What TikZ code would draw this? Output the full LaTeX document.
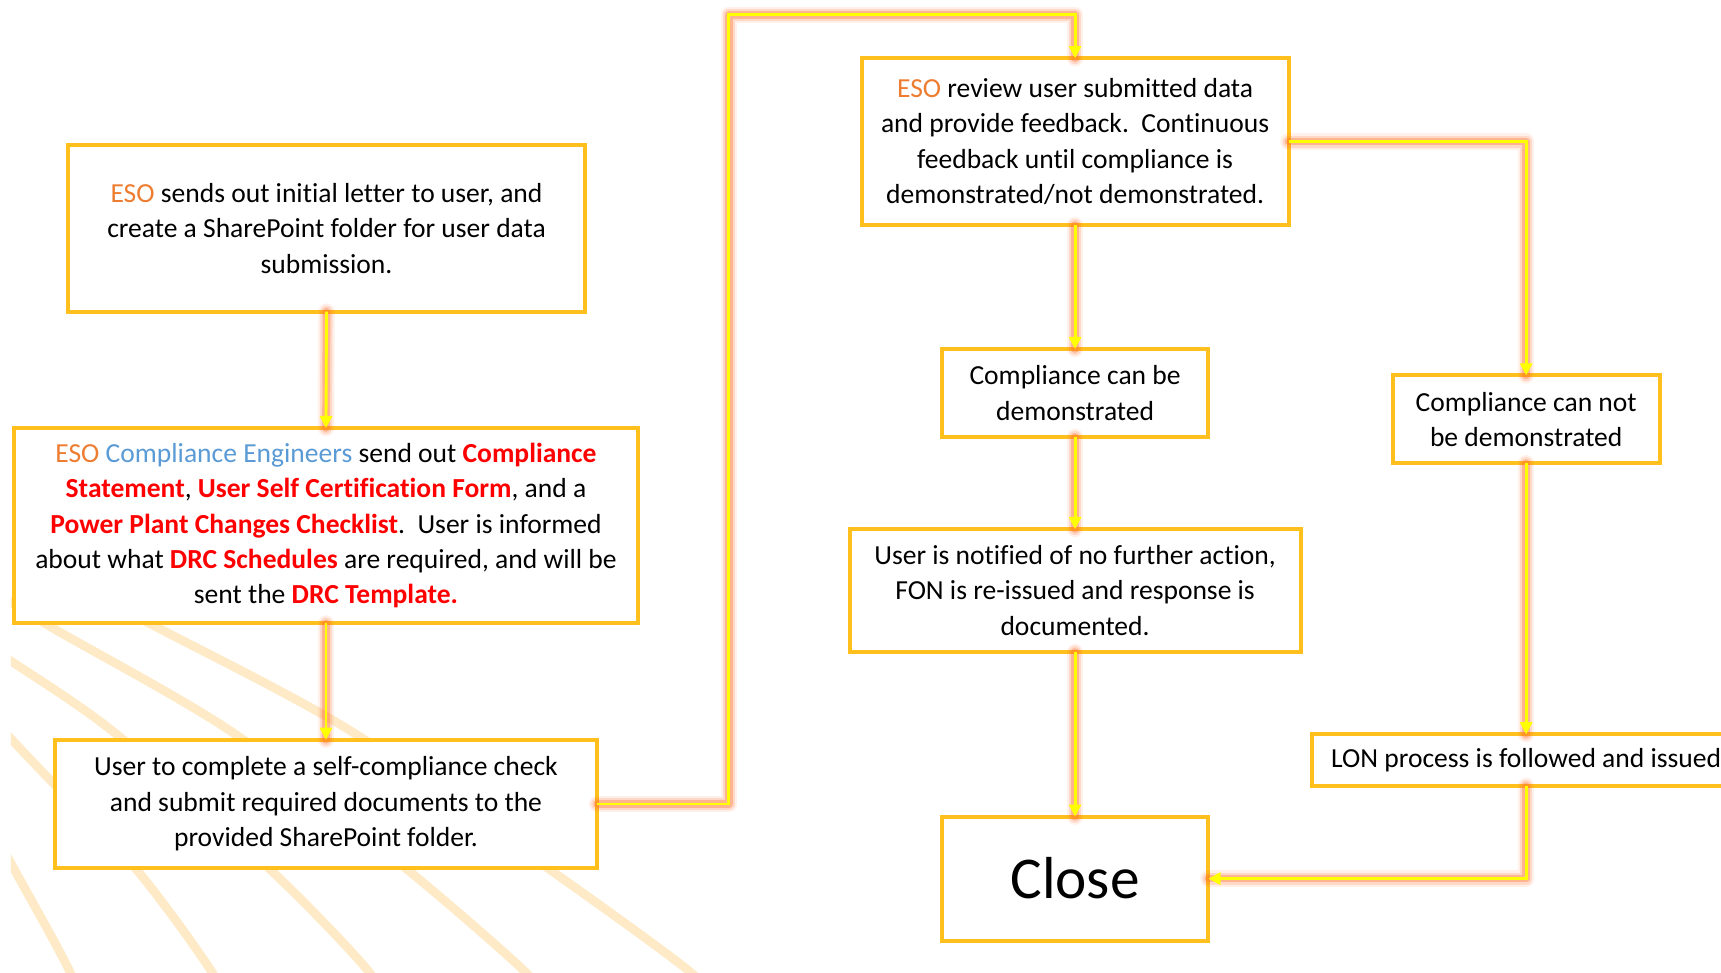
\documentclass[tikz,border=0pt]{standalone}
\usepackage{fontspec}
\setmainfont{Carlito}[Ligatures=NoCommon]
\usetikzlibrary{arrows.meta}

\definecolor{boxgold}{RGB}{255,192,30}
\definecolor{linkyellow}{RGB}{255,255,0}
\definecolor{glowred}{RGB}{255,110,50}
\definecolor{esoorange}{RGB}{237,125,49}
\definecolor{engblue}{RGB}{91,155,213}
\definecolor{docred}{RGB}{255,0,0}
\definecolor{stripecol}{RGB}{254,234,198}

\newcommand\esotxt[1]{\textcolor{esoorange}{#1}}
\newcommand\engtxt[1]{\textcolor{engblue}{#1}}
\newcommand\doctxt[1]{\textcolor{docred}{\bfseries #1}}
\newcommand\bodysize{\fontsize{25.1pt}{32.2pt}\selectfont}

\tikzset{
  box/.style={draw=boxgold, line width=3.6pt, fill=white, inner sep=0pt,
    outer sep=0pt, align=center, font=\bodysize},
  link/.style={draw=linkyellow, line width=2.6pt,
    -{Triangle[width=11pt,length=11pt]},
    preaction={draw=glowred, line width=15pt, opacity=0.10, line cap=round,
      line join=round, arrows=-},
    preaction={draw=glowred, line width=11pt, opacity=0.18, line cap=round,
      line join=round, arrows=-},
    preaction={draw=glowred!80!orange, line width=7pt, opacity=0.35,
      line cap=round, line join=round, arrows=-}},
  stripeline/.style={draw=stripecol, line width=8pt},
}

\begin{document}
\begin{tikzpicture}[x=1pt,y=-1pt]
\useasboundingbox (0,0) rectangle (1568,886);
\fill[white] (0,0) rectangle (1568,886);
\clip (0,0) rectangle (1568,886);

% pale decorative arcs in the lower left corner
\begin{scope}
  \clip (10,540) rectangle (720,886);
  \draw[stripeline] plot[smooth] coordinates {(62,530) (142,571) (318,665) (502,793) (627,884) (660,920)};
  \draw[stripeline] plot[smooth] coordinates {(-20,530) (46,571) (213,668) (372,793) (477,884) (505,920)};
  \draw[stripeline] plot[smooth] coordinates {(-40,570) (8,601) (105,668) (247,793) (335,884) (352,920)};
  \draw[stripeline] plot[smooth] coordinates {(-30,630) (8,671) (46,711) (125,793) (192,884) (206,920)};
  \draw[stripeline] plot[smooth] coordinates {(-20,731) (8,783) (63,884) (72,920)};
\end{scope}

% process steps
\node[box, minimum width=471pt, minimum height=152pt] (send) at (297.5,208)
  {\esotxt{ESO} sends out initial letter to user, and\\
   create a SharePoint folder for user data\\
   submission.};
\node[box, minimum width=568pt, minimum height=178pt] (pack) at (297,479)
  {\esotxt{ESO} \engtxt{Compliance Engineers} send out \doctxt{Compliance}\\
   \doctxt{Statement}, \doctxt{User Self Certification Form}, and a\\
   \doctxt{Power Plant Changes Checklist}.\ \ User is informed\\
   about what \doctxt{DRC Schedules} are required, and will be\\
   sent the \doctxt{DRC Template.}};
\node[box, minimum width=494pt, minimum height=117pt] (check) at (297,732.5)
  {User to complete a self-compliance check\\
   and submit required documents to the\\
   provided SharePoint folder.};
\node[box, minimum width=389pt, minimum height=152pt] (review) at (979.5,129)
  {\esotxt{ESO} review user submitted data\\
   and provide feedback.\ \ Continuous\\
   feedback until compliance is\\
   demonstrated/not demonstrated.};
\node[box, minimum width=243pt, minimum height=80pt] (canbe) at (979.5,358)
  {Compliance can be\\ demonstrated};
\node[box, minimum width=411pt, minimum height=112pt] (notify) at (979.5,538)
  {User is notified of no further action,\\
   FON is re-issued and response is\\
   documented.};
\node[box, minimum width=243pt, minimum height=113pt, font=\fontsize{54pt}{60pt}\selectfont] (close) at (979.5,800.5)
  {Close};
\node[box, minimum width=243pt, minimum height=80pt] (cannot) at (1390.5,382)
  {Compliance can not\\ be demonstrated};
\node[box, minimum width=390pt, minimum height=47pt] (lon) at (1390.5,692.5)
  {LON process is followed and issued};

% connectors
\coordinate (rise) at (664,13.5);
\draw[link] (send.south) -- (pack.north);
\draw[link] (pack.south) -- (check.north);
\draw[link] (check.east) -| (rise) -| (review.north);
\draw[link] (review.south) -- (canbe.north);
\draw[link] (review.east) -| (cannot.north);
\draw[link] (canbe.south) -- (notify.north);
\draw[link] (notify.south) -- (close.north);
\draw[link] (cannot.south) -- (lon.north);
\draw[link] (lon.south) |- (close.east);
\end{tikzpicture}
\end{document}
